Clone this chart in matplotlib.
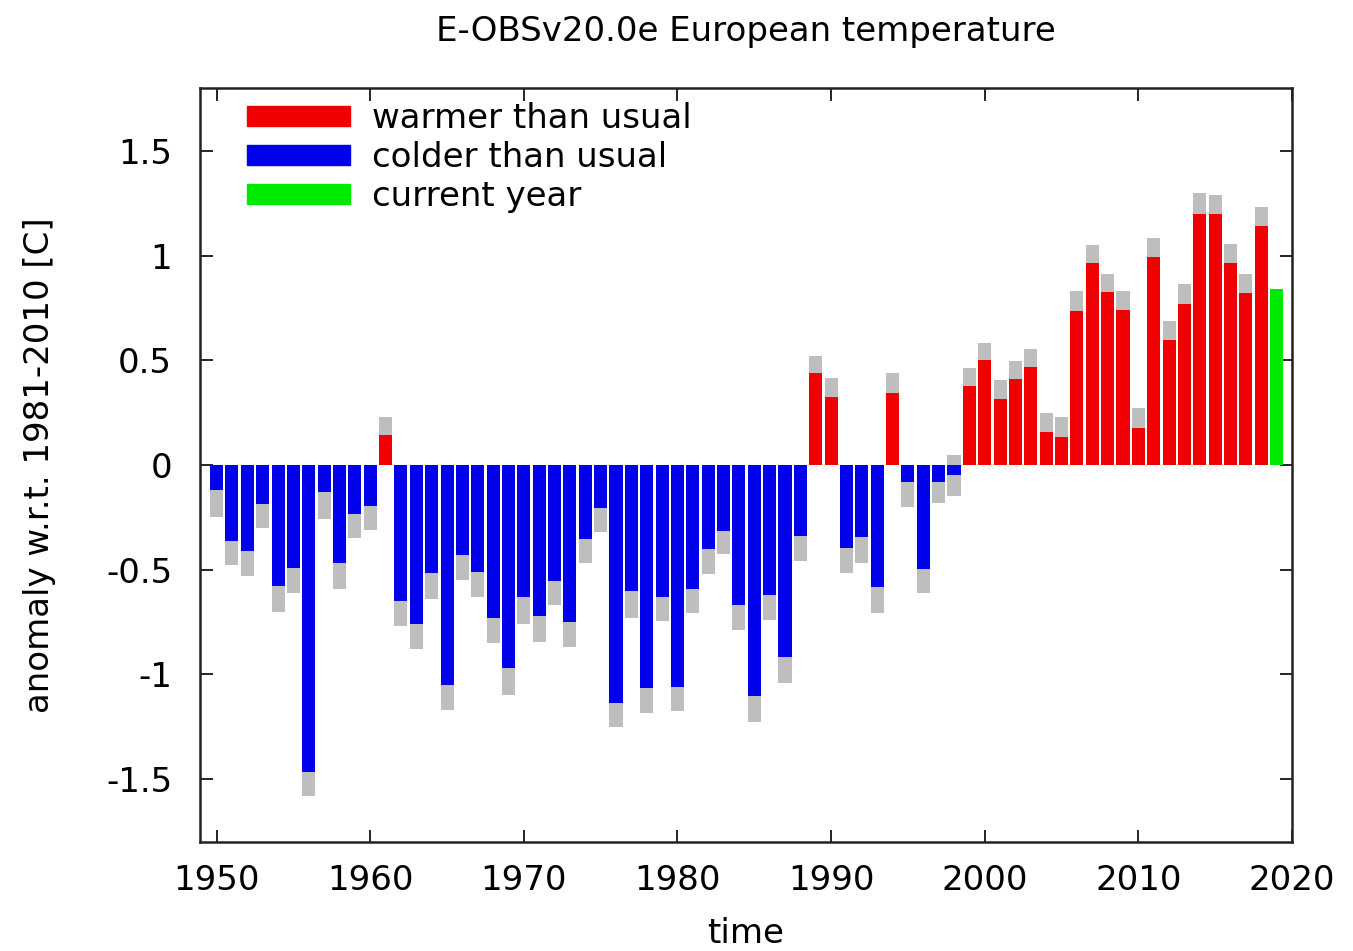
import matplotlib
matplotlib.use("Agg")
import matplotlib.pyplot as plt
from matplotlib.patches import Patch
import numpy as np

years = list(range(1950, 2020))
anomaly = [
    -0.12, -0.365, -0.41, -0.186, -0.58, -0.49, -1.465, -0.13, -0.47, -0.233,
    -0.195, 0.143, -0.65, -0.76, -0.516, -1.05, -0.43, -0.51, -0.73, -0.97,
    -0.63, -0.72, -0.556, -0.75, -0.352, -0.203, -1.135, -0.60, -1.067, -0.63,
    -1.058, -0.59, -0.40, -0.314, -0.67, -1.103, -0.62, -0.918, -0.341, 0.437,
    0.325, -0.397, -0.345, -0.583, 0.344, -0.079, -0.495, -0.079, -0.048, 0.378,
    0.50, 0.317, 0.41, 0.468, 0.159, 0.132, 0.735, 0.963, 0.825, 0.738,
    0.179, 0.995, 0.598, 0.767, 1.20, 1.198, 0.963, 0.822, 1.143, 0.841,
]
# outer end of the grey uncertainty bar (None = no grey bar)
gray_end = [
    -0.25, -0.476, -0.53, -0.30, -0.70, -0.61, -1.58, -0.26, -0.59, -0.35,
    -0.31, 0.23, -0.77, -0.88, -0.64, -1.17, -0.55, -0.63, -0.85, -1.10,
    -0.76, -0.845, -0.667, -0.87, -0.47, -0.318, -1.25, -0.73, -1.186, -0.746,
    -1.175, -0.705, -0.52, -0.425, -0.79, -1.227, -0.738, -1.043, -0.46, 0.52,
    0.415, -0.516, -0.47, -0.706, 0.44, -0.20, -0.61, -0.18, -0.15, 0.465,
    0.584, 0.405, 0.495, 0.556, 0.25, 0.227, 0.833, 1.052, 0.913, 0.829,
    0.27, 1.084, 0.687, 0.865, 1.30, 1.29, 1.056, 0.913, 1.233, None,
]
# grey bar parts reaching across zero
gray_other_side = {1998: 0.05}
current_year = 2019

legend_labels = ["warmer than usual", "colder than usual", "current year"]
title = "E-OBSv20.0e European temperature"
xlabel = "time"
ylabel = "anomaly w.r.t. 1981-2010 [C]"
xticks = [1950, 1960, 1970, 1980, 1990, 2000, 2010, 2020]
yticks = [-1.5, -1, -0.5, 0, 0.5, 1, 1.5]
ytick_labels = ["-1.5", "-1", "-0.5", "0", "0.5", "1", "1.5"]

RED = "#f00000"
BLUE = "#0000ea"
GREEN = "#00ea00"
GRAY = "#bebebe"

plt.rcParams["font.family"] = ["DejaVu Sans"]
fs = 24.5

fig = plt.figure(figsize=(13.53, 9.51), dpi=100)
ax = fig.add_axes([200 / 1353, 1 - 842 / 951, 1092 / 1353, 754 / 951])

w = 0.85
for y, v, g in zip(years, anomaly, gray_end):
    if g is not None:
        start = gray_other_side.get(y, 0.0)
        ax.bar(y, g - start, bottom=start, width=w, color=GRAY, linewidth=0, zorder=2)
    if y == current_year:
        c = GREEN
    elif v >= 0:
        c = RED
    else:
        c = BLUE
    ax.bar(y, v, width=w, color=c, linewidth=0, zorder=3)

ax.set_xlim(1948.92, 2020)
ax.set_ylim(-1.8, 1.8)
ax.set_xticks(xticks)
ax.set_xticklabels([str(t) for t in xticks], fontsize=fs)
ax.set_yticks(yticks)
ax.set_yticklabels(ytick_labels, fontsize=fs)
ax.tick_params(direction="in", length=9, width=1.2, top=True, right=True, colors="black")
ax.tick_params(axis="y", pad=20)
ax.tick_params(axis="x", pad=16)
for s in ax.spines.values():
    s.set_linewidth(1.8)
    s.set_color("#222222")

ax.set_title(title, fontsize=fs, pad=34)
ax.set_xlabel(xlabel, fontsize=fs, labelpad=14)
ax.set_ylabel(ylabel, fontsize=fs, labelpad=36)

handles = [Patch(color=RED), Patch(color=BLUE), Patch(color=GREEN)]
ax.legend(handles, legend_labels, loc="upper left", frameon=False, fontsize=fs,
          handlelength=3.03, handleheight=0.53, handletextpad=0.65, labelspacing=0.18,
          borderaxespad=0.2, bbox_to_anchor=(0.0244, 1.009))

fig.savefig("out.png", dpi=100)
